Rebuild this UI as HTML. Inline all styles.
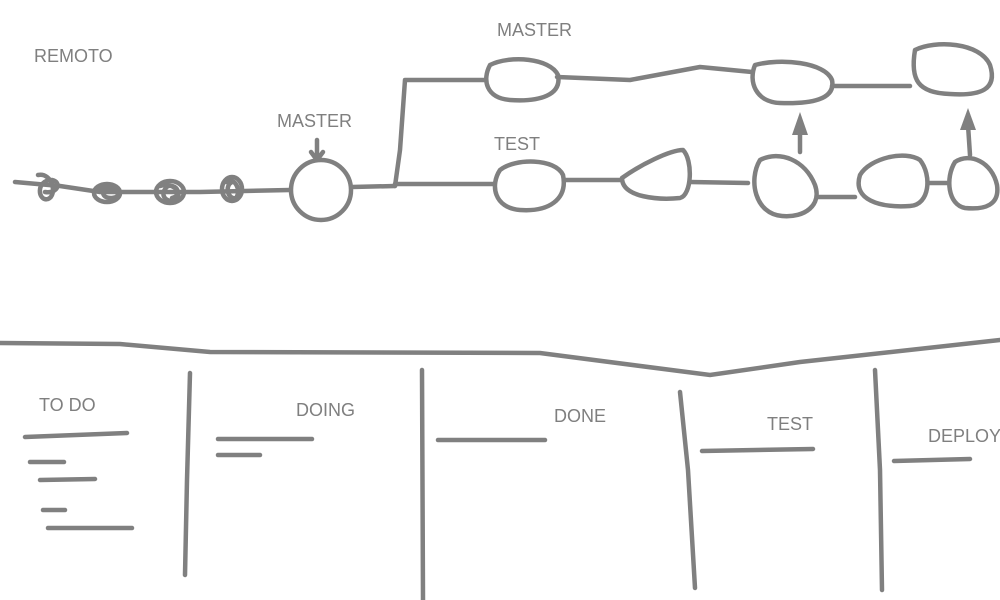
<!DOCTYPE html>
<html><head><meta charset="utf-8"><style>
html,body{margin:0;padding:0;background:#fff;width:1000px;height:600px;overflow:hidden}
svg text{font-family:"Liberation Sans",sans-serif;font-size:18px;fill:#7f7f7f}
</style></head><body>
<svg width="1000" height="600" viewBox="0 0 1000 600" xmlns="http://www.w3.org/2000/svg">
<g fill="none" stroke="#808080" stroke-width="4.5" stroke-linecap="round" stroke-linejoin="round">
<path d="M15,182 L60,186 L100,192 L150,192 L200,192 L290,190"/>
<path d="M38,175 C52,172 58,195 48,199 C38,202 35,180 52,180 C62,182 58,194 45,192"/>
<ellipse cx="107" cy="193" rx="13" ry="9"/>
<path d="M98,190 C104,186 118,188 118,196 C112,200 100,198 104,190"/>
<ellipse cx="170" cy="192" rx="14" ry="11"/>
<path d="M160,186 C170,182 184,190 176,200 C166,204 158,194 168,186 C178,184 182,196 172,198"/>
<ellipse cx="232" cy="189" rx="10" ry="12"/>
<path d="M226,182 C234,176 242,190 236,198 C228,200 224,186 232,182"/>
<circle cx="321" cy="190" r="30"/>
<path d="M352,187 L395,186"/>
<path d="M317,140 L317,158 M311,152 L317,160 L323,152"/>
<path d="M395,186 L400,150 L405,80 L485,80"/>
<path d="M490,65 C510,55 550,58 558,75 C562,95 540,102 510,100 C486,98 482,80 490,65 Z"/>
<path d="M557,77 L630,80 L700,67 L752,72"/>
<path d="M755,65 C780,58 825,62 832,80 C836,100 810,104 780,103 C756,102 748,82 755,65 Z"/>
<path d="M832,86 L910,86"/>
<path d="M915,50 C935,40 980,42 990,65 C998,90 980,96 950,94 C918,93 910,80 915,50 Z"/>
<path d="M395,184 L493,184"/>
<path d="M500,170 C515,158 555,158 563,175 C568,200 548,212 520,210 C494,208 490,185 500,170 Z"/>
<path d="M565,180 L622,180"/>
<path d="M622,178 C640,165 670,150 683,150 C693,160 692,195 680,198 C660,200 622,198 622,178 Z"/>
<path d="M690,182 L748,183"/>
<path d="M760,160 C780,150 805,160 815,185 C822,205 805,218 782,216 C755,214 748,180 760,160 Z"/>
<path d="M800,152 L800,120"/>
<path d="M818,197 L855,197"/>
<path d="M860,175 C870,158 905,150 920,160 C932,175 930,205 910,206 C880,208 852,200 860,175 Z"/>
<path d="M928,183 L948,183"/>
<path d="M955,162 C970,152 992,162 997,185 C1000,205 985,210 965,208 C948,205 945,178 955,162 Z"/>
<path d="M970,155 L968,125"/>
</g>
<g fill="#808080">
<path d="M792,135 L800,112 L808,135 Z"/>
<path d="M960,130 L968,108 L976,130 Z"/>
</g>
<g fill="none" stroke="#808080" stroke-width="4.5" stroke-linecap="round">
<path d="M0,343 L120,344 L210,352 L540,353 L710,375 L800,362 L1000,340"/>
<path d="M190,373 L187,480 L185,575"/>
<path d="M422,370 L423,600"/>
<path d="M680,392 L688,470 L695,588"/>
<path d="M875,370 L880,470 L882,590"/>
<path d="M25,437 L127,433"/>
<path d="M30,462 L64,462"/>
<path d="M40,480 L95,479"/>
<path d="M43,510 L65,510"/>
<path d="M48,528 L132,528"/>
<path d="M218,439 L312,439"/>
<path d="M218,455 L260,455"/>
<path d="M438,440 L545,440"/>
<path d="M702,451 L813,449"/>
<path d="M894,461 L970,459"/>
</g>
<text x="34" y="62">REMOTO</text>
<text x="277" y="127">MASTER</text>
<text x="497" y="36">MASTER</text>
<text x="494" y="150">TEST</text>
<text x="39" y="411">TO DO</text>
<text x="296" y="416">DOING</text>
<text x="554" y="422">DONE</text>
<text x="767" y="430">TEST</text>
<text x="928" y="442">DEPLOY</text>
</svg>
</body></html>
